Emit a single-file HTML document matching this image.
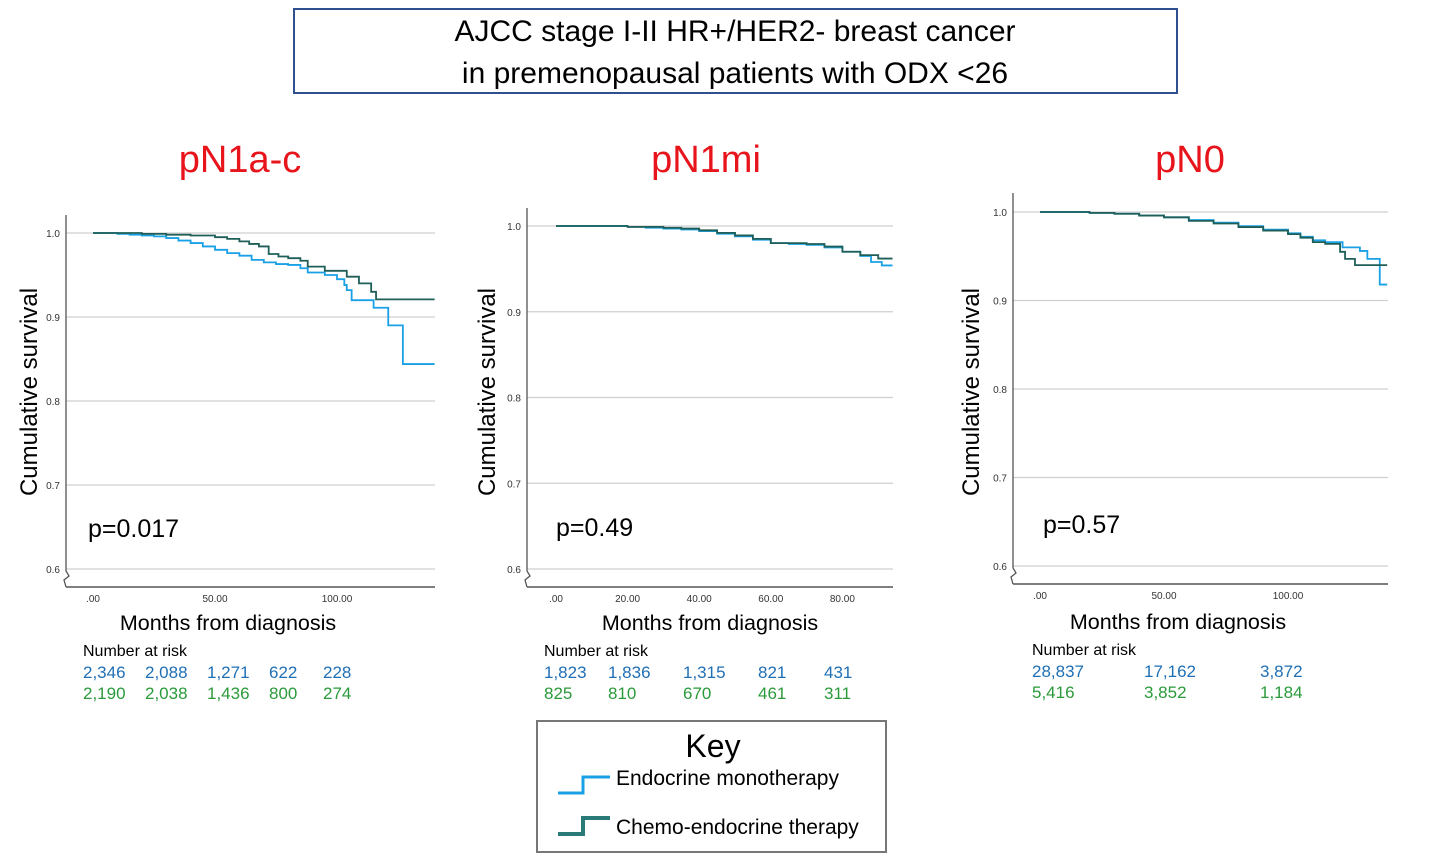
<!DOCTYPE html>
<html><head><meta charset="utf-8">
<style>
body{margin:0;background:#fff;width:1430px;height:865px;overflow:hidden;font-family:"Liberation Sans",sans-serif}
svg{position:absolute;left:0;top:0}
</style></head>
<body>
<svg id="chart" width="1430" height="865" viewBox="0 0 1430 865">
<rect x="294" y="9" width="883" height="84" fill="none" stroke="#2f4f8f" stroke-width="2"/>
<text x="735" y="41" font-size="30" text-anchor="middle" fill="#000">AJCC stage I-II HR+/HER2- breast cancer</text>
<text x="735" y="83" font-size="30" text-anchor="middle" fill="#000">in premenopausal patients with ODX &lt;26</text>
<g id="panels"></g>
<rect x="537" y="721" width="349" height="131" fill="none" stroke="#777" stroke-width="2"/>
<text x="713" y="757" font-size="32" text-anchor="middle">Key</text>
<path d="M558 793 H583 V777 H610" fill="none" stroke="#1aa0e6" stroke-width="3"/>
<text x="616" y="785" font-size="21">Endocrine monotherapy</text>
<path d="M558 834 H583 V818 H610" fill="none" stroke="#2a7a78" stroke-width="4"/>
<text x="616" y="834" font-size="21">Chemo-endocrine therapy</text>
</svg>
<script>
// ---- data ----
const panelTitles=["pN1a-c","pN1mi","pN0"];
const pValues=["p=0.017","p=0.49","p=0.57"];
const yTicks=[0.6,0.7,0.8,0.9,1.0];
const yTickLabels=["0.6","0.7","0.8","0.9","1.0"];
const xTicks1=[0,50,100];const xTickLabels1=[".00","50.00","100.00"];
const xTicks2=[0,20,40,60,80];const xTickLabels2=[".00","20.00","40.00","60.00","80.00"];
const xTicks3=[0,50,100];const xTickLabels3=[".00","50.00","100.00"];
// pN1a-c (step times and survival after the step)
const endoT1=[0,5,10,15,20,25,30,35,40,45,50,55,60,65,70,75,80,85,88,95,100,103,104,106,115,121,127,140];
const endoS1=[1.0,1.0,0.999,0.998,0.997,0.996,0.994,0.991,0.988,0.984,0.980,0.976,0.973,0.968,0.965,0.963,0.962,0.958,0.953,0.950,0.945,0.938,0.932,0.920,0.911,0.890,0.844,0.844];
const chemoT1=[0,10,20,30,40,50,55,60,64,68,72,76,80,85,88,95,104,109,114,116,140];
const chemoS1=[1.0,1.0,0.999,0.998,0.997,0.995,0.993,0.990,0.987,0.984,0.975,0.972,0.970,0.967,0.960,0.955,0.948,0.940,0.930,0.921,0.921];
// pN1mi
const endoT2=[0,10,20,25,30,35,40,45,50,55,60,65,70,75,80,85,88,91,94];
const endoS2=[1.0,1.0,0.999,0.998,0.997,0.996,0.994,0.991,0.988,0.984,0.980,0.979,0.978,0.975,0.970,0.965,0.958,0.954,0.954];
const chemoT2=[0,10,20,25,30,35,40,45,50,55,60,65,70,75,80,85,90,94];
const chemoS2=[1.0,1.0,0.999,0.999,0.998,0.997,0.995,0.992,0.989,0.985,0.980,0.980,0.979,0.976,0.970,0.966,0.962,0.962];
// pN0
const endoT3=[0,10,20,30,40,50,60,70,80,90,100,105,110,115,122,129,132,137,140];
const endoS3=[1.0,1.0,0.999,0.998,0.996,0.994,0.991,0.988,0.984,0.980,0.976,0.972,0.968,0.966,0.960,0.956,0.947,0.918,0.918];
const chemoT3=[0,10,20,30,40,50,60,70,80,90,100,105,110,115,121,123,127,140];
const chemoS3=[1.0,1.0,0.999,0.998,0.996,0.994,0.990,0.987,0.983,0.979,0.975,0.971,0.966,0.964,0.955,0.947,0.940,0.940];
// number at risk
const riskEndo1=["2,346","2,088","1,271","622","228"];
const riskChemo1=["2,190","2,038","1,436","800","274"];
const riskEndo2=["1,823","1,836","1,315","821","431"];
const riskChemo2=["825","810","670","461","311"];
const riskEndo3=["28,837","17,162","3,872"];
const riskChemo3=["5,416","3,852","1,184"];

// ---- layout ----
const layouts=[
 {ax:66,top:215,bottom:587,right:435,y1:233,y06:569,x0:93,pxm:2.44,title:[240,172],yt:[37,392],xt:[228,630],p:[88,537],riskX:[83,145,207,269,323],riskLabelX:83,riskY:651,
  xt_:xTicks1,xl:xTickLabels1,e:[endoT1,endoS1],c:[chemoT1,chemoS1],re:riskEndo1,rc:riskChemo1},
 {ax:527,top:208,bottom:587,right:893,y1:226,y06:569,x0:556,pxm:3.58,title:[706,172],yt:[495,392],xt:[710,630],p:[556,536],riskX:[544,608,683,758,824],riskLabelX:544,riskY:651,
  xt_:xTicks2,xl:xTickLabels2,e:[endoT2,endoS2],c:[chemoT2,chemoS2],re:riskEndo2,rc:riskChemo2},
 {ax:1013,top:193,bottom:584,right:1388,y1:212,y06:566,x0:1040,pxm:2.48,title:[1190,172],yt:[979,392],xt:[1178,629],p:[1043,533],riskX:[1032,1144,1260],riskLabelX:1032,riskY:650,
  xt_:xTicks3,xl:xTickLabels3,e:[endoT3,endoS3],c:[chemoT3,chemoS3],re:riskEndo3,rc:riskChemo3}
];
const NS="http://www.w3.org/2000/svg";
const root=document.getElementById("panels");
function mk(tag,attrs,parent,text){const el=document.createElementNS(NS,tag);for(const k in attrs)el.setAttribute(k,attrs[k]);if(text!==undefined)el.textContent=text;parent.appendChild(el);return el;}
function stepPath(T,S,xs,ys){let d="M"+xs(T[0])+" "+ys(S[0]);for(let i=1;i<T.length;i++){d+=" H"+xs(T[i])+" V"+ys(S[i]);}return d;}
layouts.forEach((L,i)=>{
 const g=mk("g",{},root);
 
 
 const ys=v=>L.y06+(v-0.6)/0.4*(L.y1-L.y06);
 const xs=m=>L.x0+m*L.pxm;
 const t=mk("text",{x:L.title[0],y:L.title[1],"font-size":38,"text-anchor":"middle",fill:"#e8141b"},g,panelTitles[i]);
 
 
 yTicks.forEach((v,j)=>{
  const gl=mk("line",{x1:L.ax,x2:L.right,y1:ys(v),y2:ys(v),stroke:"#cfcfcf","stroke-width":1.3},g);
  
  
  const tl=mk("text",{x:L.ax-6,y:ys(v)+4,"font-size":10,"text-anchor":"end",fill:"#333"},g,yTickLabels[j]);
  
  
 });
 const ya=mk("path",{d:`M${L.ax} ${L.top} V${L.bottom-16} l3 5 l-5 4 l2 7`,fill:"none",stroke:"#555","stroke-width":1.3},g);
 
 
 const xa=mk("line",{x1:L.ax,x2:L.right,y1:L.bottom,y2:L.bottom,stroke:"#555","stroke-width":1.5},g);
 
 
 L.xt_.forEach((m,j)=>{
  const tl=mk("text",{x:xs(m),y:L.bottom+15,"font-size":10,"text-anchor":"middle",fill:"#333"},g,L.xl[j]);
  
  
 });
 const e=mk("path",{d:stepPath(L.e[0],L.e[1],xs,ys),fill:"none",stroke:"#1aa0e6","stroke-width":1.8},g);
 
 
 const c=mk("path",{d:stepPath(L.c[0],L.c[1],xs,ys),fill:"none",stroke:"#1f5f58","stroke-width":1.8},g);
 
 
 const yt=mk("text",{x:L.yt[0],y:L.yt[1],"font-size":24,"text-anchor":"middle",transform:`rotate(-90 ${L.yt[0]} ${L.yt[1]})`},g,"Cumulative survival");
 
 
 const xt=mk("text",{x:L.xt[0],y:L.xt[1],"font-size":21.5,"text-anchor":"middle"},g,"Months from diagnosis");
 
 
 const pv=mk("text",{x:L.p[0],y:L.p[1],"font-size":25},g,pValues[i]);
 
 
 const rl=mk("text",{x:L.riskLabelX,y:L.riskY+5,"font-size":16},g,"Number at risk");
 
 
 L.re.forEach((s,j)=>{
  const r=mk("text",{x:L.riskX[j],y:L.riskY+27,"font-size":17,fill:"#1f6fb5"},g,s);
  
  
 });
 L.rc.forEach((s,j)=>{
  const r=mk("text",{x:L.riskX[j],y:L.riskY+48,"font-size":17,fill:"#2a9a3a"},g,s);
  
  
 });
});
</script>
</body></html>
